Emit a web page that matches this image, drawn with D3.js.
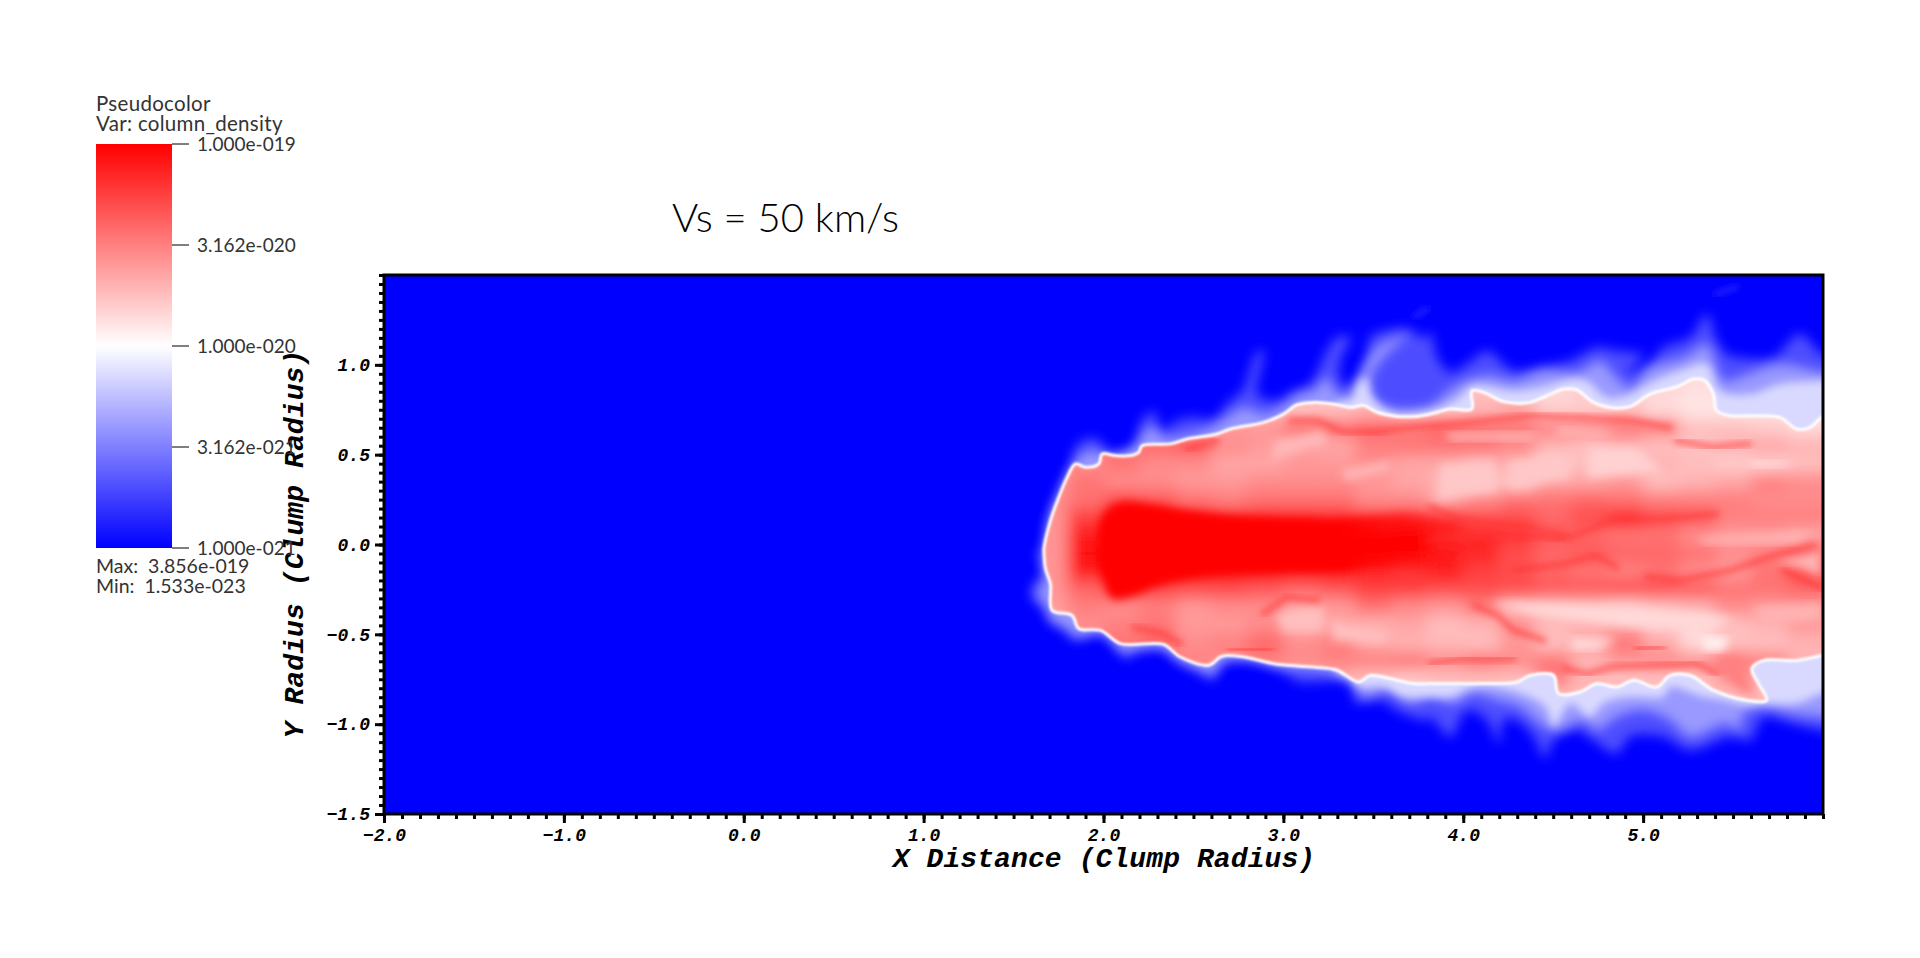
<!DOCTYPE html>
<html>
<head>
<meta charset="utf-8">
<title>Vs = 50 km/s</title>
<script src="https://d3js.org/d3.v7.min.js"></script>
<style>
  html, body { margin: 0; padding: 0; background: #fff; }
  svg { display: block; }
  .tick-label { font-family: "Liberation Mono", monospace; font-weight: bold; font-style: italic; font-size: 18px; fill: #000; }
  .axis-title { font-family: "Liberation Mono", monospace; font-weight: bold; font-style: italic; font-size: 28px; letter-spacing: 0.1px; fill: #000; }
  .legend-text { font-family: Lato, sans-serif; font-size: 19px; font-weight: 400; fill: #333; }
</style>
</head>
<body>
<div id="chart"></div>
<script>
// Axis data
let xTicks = [-2, -1, 0, 1, 2, 3, 4, 5];
let yTicks = [-1.5, -1, -0.5, 0, 0.5, 1];
let xLabel = "X Distance (Clump Radius)";
let yLabel = "Y Radius (Clump Radius)";
let chartTitle = "Vs = 50 km/s";

// Legend data, log10 of column density
let legendLogValues = [-19, -19.5, -20, -20.5, -21];
let legendLabels = ["1.000e-019", "3.162e-020", "1.000e-020", "3.162e-021", "1.000e-021"];
let legendHeader = ["Pseudocolor", "Var: column_density"];
let legendFooter = ["Max:  3.856e-019", "Min:  1.533e-023"];

// Density grid, in hundredths of a decade above 1e-20
let gridX = [1.7, 1.9, 2.1, 2.3, 2.5, 2.7, 2.9, 3.1, 3.3, 3.5, 3.7, 3.9, 4.1, 4.3, 4.5, 4.7, 4.9, 5.1, 5.3, 5.5, 5.7, 5.9, 6.1];
let gridY = [0.95, 0.85, 0.75, 0.65, 0.55, 0.45, 0.35, 0.25, 0.15, 0.05, -0.05, -0.15, -0.25, -0.35, -0.45, -0.55, -0.65, -0.75, -0.85];
let gridValues = [
  [25,25,25,25,25,25,25,25,25,25,25,25,25,25,25,25,25,25,15,15,15,15,15],
  [30,30,30,30,30,30,30,25,25,25,25,25,25,25,15,20,20,15,12,12,12,12,12],
  [30,30,30,30,30,30,30,25,25,30,30,25,30,35,20,20,25,15,10,10,12,12,12],
  [40,40,40,40,40,40,40,55,55,60,50,60,55,55,50,50,55,50,25,25,20,15,15],
  [45,45,55,60,65,45,40,40,35,50,55,55,55,45,30,25,30,25,25,30,35,30,30],
  [40,45,55,45,45,35,35,40,40,45,35,35,30,35,20,25,25,30,25,20,20,25,25],
  [40,55,45,45,40,40,45,45,45,40,35,30,25,22,35,35,40,25,30,35,50,45,45],
  [45,55,70,65,55,50,55,55,55,45,45,35,45,55,55,60,55,50,50,50,45,45,45],
  [42,75,100,100,95,90,90,88,85,80,85,85,70,70,60,70,85,70,65,50,50,50,50],
  [42,90,100,100,100,100,100,100,100,100,100,85,85,80,65,60,55,55,45,40,40,35,35],
  [42,95,100,100,100,100,100,100,100,100,100,90,85,70,60,65,60,60,55,45,50,60,60],
  [42,88,100,100,100,100,100,100,100,85,80,88,75,70,60,55,50,55,45,40,55,65,65],
  [42,60,75,72,70,70,65,60,65,75,75,70,70,70,65,65,70,70,65,55,55,60,60],
  [38,50,45,50,40,45,45,35,40,55,45,40,50,28,25,25,20,25,30,45,40,40,40],
  [35,45,50,55,40,40,45,30,35,30,35,25,30,45,28,30,35,20,15,25,30,40,40],
  [35,45,55,60,45,50,60,45,50,35,30,28,25,40,25,35,55,35,15,25,25,30,30],
  [35,45,50,50,50,45,50,45,50,50,55,45,55,45,55,30,40,45,45,55,50,30,30],
  [30,30,30,30,30,30,30,30,30,25,20,25,25,25,50,30,25,25,25,40,30,30,30],
  [25,25,25,25,25,25,25,25,25,25,25,25,25,25,25,25,25,25,25,25,25,25,25]
];

// Bow shock outline, [x, y] in clump radii
let shockOutline = [
  [1.668,-0.024],[1.705,0.134],[1.751,0.263],[1.798,0.375],[1.844,0.449],[1.90,0.43],[1.974,0.449],[1.992,0.504],
  [2.066,0.495],[2.15,0.495],[2.196,0.513],[2.214,0.55],[2.372,0.56],[2.464,0.587],[2.631,0.615],[2.705,0.643],
  [2.89,0.68],[3.0,0.726],[3.075,0.778],[3.168,0.791],[3.279,0.782],[3.372,0.763],[3.446,0.773],[3.52,0.736],
  [3.631,0.713],[3.742,0.713],[3.817,0.726],[3.928,0.754],[4.048,0.754],[4.048,0.856],[4.113,0.847],[4.224,0.795],
  [4.373,0.791],[4.465,0.828],[4.558,0.865],[4.632,0.86],[4.724,0.791],[4.835,0.76],[4.928,0.767],[5.039,0.837],
  [5.187,0.878],[5.28,0.921],[5.345,0.912],[5.391,0.837],[5.41,0.745],[5.484,0.717],[5.613,0.717],[5.761,0.708],
  [5.854,0.643],[5.928,0.652],[5.993,0.708],[6.05,0.72],[6.05,-0.6],
  [5.993,-0.617],[5.854,-0.645],[5.669,-0.645],[5.604,-0.691],[5.641,-0.774],[5.687,-0.867],[5.576,-0.867],[5.391,-0.811],
  [5.261,-0.728],[5.15,-0.728],[5.076,-0.793],[4.947,-0.756],[4.854,-0.793],[4.743,-0.774],[4.65,-0.82],[4.53,-0.83],
  [4.502,-0.728],[4.373,-0.728],[4.298,-0.765],[4.095,-0.774],[3.928,-0.774],[3.817,-0.774],[3.724,-0.774],[3.594,-0.746],
  [3.483,-0.728],[3.418,-0.765],[3.298,-0.7],[3.187,-0.685],[2.964,-0.667],[2.779,-0.626],[2.659,-0.622],[2.585,-0.672],
  [2.427,-0.626],[2.335,-0.556],[2.242,-0.552],[2.094,-0.552],[1.983,-0.478],[1.863,-0.469],[1.825,-0.395],[1.714,-0.367],
  [1.705,-0.219],[1.677,-0.135],[1.668,-0.034]
];

// Halo contours outside the shock, levels in decades relative to 1e-20
let haloLevels = [-0.7, -0.4, -0.15];
let haloOuter = [
  [1.66,-0.03],[1.705,0.17],[1.779,0.3],[1.825,0.449],[1.835,0.523],[1.872,0.569],[1.946,0.593],[2.011,0.541],[2.057,0.495],
  [2.168,0.523],[2.187,0.615],[2.233,0.717],[2.288,0.736],[2.316,0.634],[2.409,0.689],[2.501,0.708],[2.612,0.699],
  [2.687,0.782],[2.779,0.865],[2.807,0.949],[2.853,1.069],[2.89,1.078],[2.863,0.93],[2.853,0.837],[2.964,0.8],[3.057,0.856],
  [3.15,0.893],[3.224,1.041],[3.298,1.152],[3.372,1.152],[3.316,1.023],[3.325,0.893],[3.4,0.912],[3.464,1.041],[3.483,1.152],
  [3.557,1.189],[3.705,1.199],[3.76,1.152],[3.817,1.171],[3.854,1.041],[3.928,0.958],[4.02,1.004],[4.132,1.078],[4.187,1.041],
  [4.28,0.967],[4.428,0.986],[4.595,1.023],[4.743,1.097],[4.854,1.078],[5.002,1.05],[4.91,0.958],[5.02,0.986],[5.113,1.097],
  [5.261,1.152],[5.354,1.282],[5.41,1.134],[5.465,1.06],[5.539,1.041],[5.724,1.041],[5.87,1.171],[5.993,1.06],[6.05,1.05],
  [6.05,-1.04],[5.993,-1.034],[5.836,-0.997],[5.669,-0.96],[5.595,-1.089],[5.484,-1.07],[5.261,-1.145],[5.113,-1.07],[4.928,-1.07],
  [4.854,-1.163],[4.724,-1.089],[4.632,-1.033],[4.502,-1.089],[4.456,-1.19],[4.391,-1.07],[4.298,-0.978],[4.224,-0.978],
  [4.197,-1.108],[4.132,-0.978],[4.02,-0.922],[3.928,-1.07],[3.817,-0.96],[3.798,-0.978],[3.631,-0.922],[3.539,-0.867],[3.4,-0.876],
  [3.372,-0.774],[3.168,-0.765],[3.094,-0.765],[2.964,-0.691],[2.779,-0.645],[2.659,-0.672],[2.612,-0.756],[2.557,-0.728],
  [2.427,-0.663],[2.335,-0.589],[2.168,-0.608],[2.122,-0.635],[2.075,-0.589],[1.983,-0.506],[1.835,-0.534],[1.779,-0.478],
  [1.705,-0.441],[1.668,-0.367],[1.594,-0.284],[1.622,-0.2],[1.668,-0.182],[1.631,-0.034]
];
let haloMiddle = [
  [1.70,0.15],[1.80,0.40],[1.835,0.449],[1.863,0.486],[1.946,0.523],[2.011,0.495],[2.187,0.56],[2.242,0.643],[2.288,0.652],
  [2.325,0.597],[2.575,0.643],[2.687,0.708],[2.779,0.763],[2.89,0.726],[2.983,0.763],[3.094,0.837],[3.168,0.856],[3.242,0.93],
  [3.298,0.837],[3.372,0.837],[3.446,0.986],[3.52,1.097],[3.63,1.15],[3.69,1.17],[3.54,1.023],[3.483,0.912],[3.52,0.8],
  [3.631,0.754],[3.817,0.773],[3.928,0.865],[4.04,0.921],[4.15,0.94],[4.28,0.912],[4.447,0.967],[4.632,0.958],[4.761,1.023],
  [4.854,0.93],[4.928,0.875],[5.039,0.986],[5.224,1.041],[5.354,1.115],[5.41,0.986],[5.447,0.912],[5.576,0.949],[5.761,1.004],
  [5.993,0.958],[6.05,0.95],[6.05,-0.96],[5.993,-0.96],[5.836,-0.941],[5.669,-0.904],[5.558,-0.941],[5.539,-1.034],[5.465,-0.997],
  [5.261,-1.07],[5.15,-0.978],[5.002,-0.922],[4.854,-0.96],[4.743,-1.033],[4.669,-0.978],[4.521,-1.033],[4.428,-0.997],
  [4.317,-0.904],[4.187,-0.867],[4.058,-0.83],[3.947,-0.885],[3.817,-0.848],[3.705,-0.885],[3.594,-0.811],[3.446,-0.848],
  [3.39,-0.774],[3.26,-0.71],[2.964,-0.678],[2.779,-0.635],[2.659,-0.645],[2.603,-0.719],[2.539,-0.691],[2.409,-0.635],
  [2.326,-0.57],[2.168,-0.58],[2.122,-0.6],[2.085,-0.57],[1.992,-0.487],[1.853,-0.506],[1.798,-0.46],[1.714,-0.413],
  [1.677,-0.33],[1.631,-0.274],[1.668,-0.219],[1.668,-0.09]
];
let haloInner = [
  [3.3,0.79],[3.372,0.80],[3.42,0.90],[3.46,0.93],[3.49,0.82],[3.6,0.735],[3.817,0.745],[3.965,0.81],[4.05,0.884],[4.28,0.856],
  [4.465,0.884],[4.595,0.921],[4.687,0.912],[4.798,0.819],[4.91,0.828],[5.039,0.902],[5.224,0.976],[5.354,1.004],[5.428,0.856],
  [5.595,0.837],[5.761,0.893],[5.993,0.911],[6.05,0.91],[6.05,-0.82],[5.993,-0.83],[5.854,-0.885],[5.669,-0.885],[5.576,-0.895],
  [5.447,-0.867],[5.335,-0.848],[5.15,-0.793],[5.113,-0.848],[4.928,-0.848],[4.78,-0.885],[4.706,-0.96],[4.595,-0.885],
  [4.502,-1.015],[4.456,-0.904],[4.261,-0.811],[4.058,-0.793],[3.928,-0.848],[3.817,-0.848],[3.668,-0.848],[3.557,-0.793],
  [3.427,-0.793],[3.372,-0.737],[3.3,-0.7]
];
let faintStrands = [
  [[3.72,1.263],[3.81,1.319]],
  [[5.394,1.389],[5.53,1.44]]
];

// Dense core of the clump
let coreOutline = [
  [1.97,0.0],[1.98,0.12],[2.03,0.2],[2.1,0.235],[2.25,0.225],[2.45,0.19],[2.7,0.16],[3.0,0.145],[3.3,0.14],[3.55,0.16],[3.7,0.17],
  [3.9,0.12],[3.98,-0.02],[3.85,-0.1],[3.6,-0.12],[3.3,-0.14],[3.0,-0.15],[2.6,-0.17],[2.33,-0.22],[2.15,-0.29],
  [2.05,-0.3],[2.0,-0.2],[1.97,-0.1]
];

// Dense filaments inside the tail
let filaments = [
  [[3.04,0.69],[3.19,0.69],[3.335,0.625],[3.52,0.625],[3.63,0.645],[3.817,0.66],[4.04,0.68],[4.37,0.717],[4.65,0.708],[4.93,0.69],[5.15,0.652]],
  [[2.464,0.53],[2.63,0.578]],
  [[3.817,0.207],[4.0,0.134],[4.37,0.097],[4.6,0.041],[4.82,0.134],[5.11,0.143],[5.41,0.17]],
  [[3.817,0.023],[4.19,0.06],[4.56,0.03]],
  [[4.28,-0.145],[4.56,-0.108],[4.74,-0.061],[4.85,-0.126]],
  [[5.02,-0.18],[5.2,-0.2],[5.48,-0.145],[5.76,-0.05],[5.95,-0.006]],
  [[5.78,-0.145],[5.99,-0.24]],
  [[4.06,-0.339],[4.19,-0.395],[4.28,-0.478],[4.45,-0.534]],
  [[3.817,-0.663],[4.0,-0.635],[4.28,-0.635]],
  [[4.56,-0.69],[4.69,-0.72],[4.83,-0.68],[5.3,-0.663],[5.41,-0.72]],
  [[4.965,-0.58],[5.11,-0.57]],
  [[2.705,-0.589],[2.93,-0.58]],
  [[2.168,-0.46],[2.335,-0.497],[2.427,-0.552]],
  [[2.89,-0.385],[3.02,-0.293],[3.19,-0.31]],
  [[5.187,0.578],[5.39,0.541],[5.59,0.56]]
];

// Low density patches inside the tail, level in hundredths of a decade
let patchLevels = [22, 22, 18, 12, 15, 5, 15, 25, 25, 28, 28, 25, 30, 30, 30, 30, 50];
let patches = [
  [[3.87,0.449],[4.17,0.467],[4.19,0.30],[3.85,0.245]],
  [[4.24,0.467],[4.56,0.504],[4.6,0.375],[4.26,0.31]],
  [[4.7,0.54],[4.96,0.54],[5.11,0.41],[4.69,0.375]],
  [[5.61,0.467],[5.83,0.458],[5.8,0.44],[5.6,0.43]],
  [[4.15,-0.32],[4.96,-0.35],[5.52,-0.41],[5.39,-0.46],[4.93,-0.46],[4.37,-0.385]],
  [[5.32,-0.515],[5.48,-0.515],[5.45,-0.59],[5.34,-0.59]],
  [[4.6,-0.515],[4.85,-0.53],[4.74,-0.589],[4.6,-0.589]],
  [[2.96,-0.385],[3.22,-0.348],[3.22,-0.478],[3.0,-0.478]],
  [[3.26,-0.42],[3.594,-0.497],[3.557,-0.552],[3.28,-0.533]],
  [[2.95,0.578],[3.22,0.634],[3.26,0.56],[2.93,0.467]],
  [[3.316,0.412],[3.594,0.467],[3.594,0.412],[3.35,0.356]],
  [[4.52,0.652],[4.85,0.625],[4.78,0.606],[4.52,0.615]],
  [[3.89,0.625],[4.43,0.625],[4.37,0.578],[3.93,0.578]],
  [[5.3,0.041],[5.95,0.078],[5.85,0.004],[5.33,0.004]],
  [[5.74,-0.089],[5.99,-0.034],[5.99,-0.18],[5.91,-0.145]],
  [[5.61,-0.348],[5.99,-0.33],[5.99,-0.42],[5.67,-0.44]],
  [[5.39,-0.66],[5.52,-0.617],[5.63,-0.85],[5.52,-0.8]]
];

var width = 1920, height = 958;

var svg = d3.select("#chart").append("svg")
    .attr("width", width)
    .attr("height", height);

var x = d3.scaleLinear().domain([-2, 6]).range([384, 1823]);
var y = d3.scaleLinear().domain([-1.5, 1.5]).range([814, 275]);

// blue -> white -> red, in decades relative to 1e-20
var color = d3.scaleLinear().domain([-1, 0, 1]).range(["#0000ff", "#ffffff", "#ff0000"]);
var pathFor = d3.line().x(function (d) { return x(d[0]); }).y(function (d) { return y(d[1]); });
var smoothLoop = d3.line().x(function (d) { return x(d[0]); }).y(function (d) { return y(d[1]); })
    .curve(d3.curveCatmullRomClosed.alpha(0.5));

var defs = svg.append("defs");

function addBlur(id, sd) {
    defs.append("filter").attr("id", id)
        .attr("x", "-20%").attr("y", "-20%").attr("width", "140%").attr("height", "140%")
        .append("feGaussianBlur").attr("stdDeviation", sd);
}
addBlur("blurGrid", 8);
addBlur("blurHalo0", 6);
addBlur("blurHalo1", 6);
addBlur("blurHalo2", 4.5);
addBlur("blurPatch", 5);
addBlur("blurFil", 3);
addBlur("blurCore", 4);
addBlur("blurLine", 0.8);

defs.append("clipPath").attr("id", "plotClip").append("rect")
    .attr("x", x(-2)).attr("y", y(1.5))
    .attr("width", x(6) - x(-2)).attr("height", y(-1.5) - y(1.5));
defs.append("clipPath").attr("id", "shockClip").append("path")
    .attr("d", smoothLoop(shockOutline));

// core fades out along the tail
var coreFade = defs.append("linearGradient").attr("id", "coreFade")
    .attr("gradientUnits", "userSpaceOnUse")
    .attr("x1", x(3.3)).attr("x2", x(3.98)).attr("y1", 0).attr("y2", 0);
coreFade.append("stop").attr("offset", 0).attr("stop-color", color(1)).attr("stop-opacity", 1);
coreFade.append("stop").attr("offset", 1).attr("stop-color", color(1)).attr("stop-opacity", 0);

// Plot area
var plot = svg.append("g").attr("clip-path", "url(#plotClip)");
plot.append("rect")
    .attr("x", x(-2)).attr("y", y(1.5))
    .attr("width", x(6) - x(-2)).attr("height", y(-1.5) - y(1.5))
    .attr("fill", color(-1));

plot.selectAll("path.strand").data(faintStrands).enter().append("path")
    .attr("class", "strand")
    .attr("d", pathFor)
    .attr("fill", "none")
    .attr("stroke", color(-0.88))
    .attr("stroke-width", 6)
    .attr("filter", "url(#blurFil)");

[haloOuter, haloMiddle, haloInner].forEach(function (contour, i) {
    plot.append("path")
        .attr("d", smoothLoop(contour))
        .attr("fill", color(haloLevels[i]))
        .attr("filter", "url(#blurHalo" + i + ")");
});

// Tail interior, clipped to the shock
var tail = plot.append("g").attr("clip-path", "url(#shockClip)");
tail.append("path").attr("d", smoothLoop(shockOutline)).attr("fill", color(0.35));

var cells = tail.append("g").attr("filter", "url(#blurGrid)");
gridValues.forEach(function (row, r) {
    row.forEach(function (v, c) {
        cells.append("rect")
            .attr("x", x(gridX[c] - 0.1))
            .attr("y", y(gridY[r] + 0.05))
            .attr("width", x(gridX[c] + 0.1) - x(gridX[c] - 0.1) + 0.5)
            .attr("height", y(gridY[r] - 0.05) - y(gridY[r] + 0.05) + 0.5)
            .attr("fill", color(v / 100));
    });
});

tail.selectAll("path.patch").data(patches).enter().append("path")
    .attr("class", "patch")
    .attr("d", function (d) { return pathFor(d) + "Z"; })
    .attr("fill", function (d, i) { return color(patchLevels[i] / 100); })
    .attr("filter", "url(#blurPatch)");

tail.selectAll("path.filament").data(filaments).enter().append("path")
    .attr("class", "filament")
    .attr("d", pathFor)
    .attr("fill", "none")
    .attr("stroke", color(0.8))
    .attr("stroke-width", 6)
    .attr("stroke-opacity", 0.6)
    .attr("stroke-linecap", "round")
    .attr("filter", "url(#blurFil)");

tail.append("path")
    .attr("d", smoothLoop(coreOutline))
    .attr("fill", "url(#coreFade)")
    .attr("filter", "url(#blurCore)");

// White line along the shock
plot.append("path")
    .attr("d", smoothLoop(shockOutline))
    .attr("fill", "none")
    .attr("stroke", "#fff")
    .attr("stroke-width", 3)
    .attr("stroke-linejoin", "round")
    .attr("filter", "url(#blurLine)");

// Axes
var xMinor = d3.range(-20, 61).map(function (d) { return d / 10; });
var yMinor = d3.range(-30, 31).map(function (d) { return d / 20; });

svg.append("g")
    .attr("transform", "translate(0," + y(-1.5) + ")")
    .call(d3.axisBottom(x).tickValues(xMinor).tickSize(5).tickFormat(""))
    .call(function (g) { g.select(".domain").remove(); g.selectAll("line").attr("stroke-width", 3); });
svg.append("g")
    .attr("transform", "translate(0," + y(-1.5) + ")")
    .call(d3.axisBottom(x).tickValues(xTicks).tickSize(9).tickPadding(5).tickFormat(d3.format(".1f")))
    .call(function (g) {
        g.select(".domain").remove();
        g.selectAll("line").attr("stroke-width", 3);
        g.selectAll("text").attr("class", "tick-label");
    });
svg.append("g")
    .attr("transform", "translate(" + x(-2) + ",0)")
    .call(d3.axisLeft(y).tickValues(yMinor).tickSize(5).tickFormat(""))
    .call(function (g) { g.select(".domain").remove(); g.selectAll("line").attr("stroke-width", 3); });
svg.append("g")
    .attr("transform", "translate(" + x(-2) + ",0)")
    .call(d3.axisLeft(y).tickValues(yTicks).tickSize(9).tickPadding(5).tickFormat(d3.format(".1f")))
    .call(function (g) {
        g.select(".domain").remove();
        g.selectAll("line").attr("stroke-width", 3);
        g.selectAll("text").attr("class", "tick-label");
    });

svg.append("rect")
    .attr("x", x(-2)).attr("y", y(1.5))
    .attr("width", x(6) - x(-2)).attr("height", y(-1.5) - y(1.5))
    .attr("fill", "none").attr("stroke", "#000").attr("stroke-width", 3);

svg.append("text").attr("class", "axis-title")
    .attr("x", 1104).attr("y", 867).attr("text-anchor", "middle")
    .text(xLabel);
svg.append("text").attr("class", "axis-title")
    .attr("transform", "translate(303,544)rotate(-90)")
    .attr("text-anchor", "middle")
    .text(yLabel);

svg.append("text")
    .attr("x", 672).attr("y", 232)
    .attr("font-family", "Lato, sans-serif").attr("font-weight", 300).attr("font-size", 40)
    .attr("fill", "#000")
    .text(chartTitle);

// Legend
var legendY = d3.scaleLinear().domain([-21, -19]).range([548, 144]);
var grad = defs.append("linearGradient").attr("id", "legendGrad")
    .attr("x1", 0).attr("y1", 1).attr("x2", 0).attr("y2", 0);
[-1, 0, 1].forEach(function (d) {
    grad.append("stop").attr("offset", (d + 1) / 2).attr("stop-color", color(d));
});
svg.append("rect")
    .attr("x", 96).attr("y", legendY(-19))
    .attr("width", 76).attr("height", legendY(-21) - legendY(-19))
    .attr("fill", "url(#legendGrad)");

svg.selectAll("line.legend-tick").data(legendLogValues).enter().append("line")
    .attr("class", "legend-tick")
    .attr("x1", 172).attr("x2", 189)
    .attr("y1", function (d) { return legendY(d); })
    .attr("y2", function (d) { return legendY(d); })
    .attr("stroke", "#000").attr("stroke-width", 1);

svg.selectAll("text.legend-label").data(legendLogValues).enter().append("text")
    .attr("class", "legend-text legend-label")
    .attr("x", 197)
    .attr("y", function (d) { return legendY(d) + 7; })
    .text(function (d, i) { return legendLabels[i]; });

legendHeader.forEach(function (t, i) {
    svg.append("text").attr("class", "legend-text")
        .attr("x", 96).attr("y", 111 + i * 20)
        .style("font-size", "20.5px")
        .attr("letter-spacing", "0.3px")
        .text(t);
});
legendFooter.forEach(function (t, i) {
    svg.append("text").attr("class", "legend-text")
        .attr("x", 96).attr("y", 573 + i * 20)
        .style("white-space", "pre")
        .style("font-size", "19.5px")
        .text(t);
});
</script>
</body>
</html>
